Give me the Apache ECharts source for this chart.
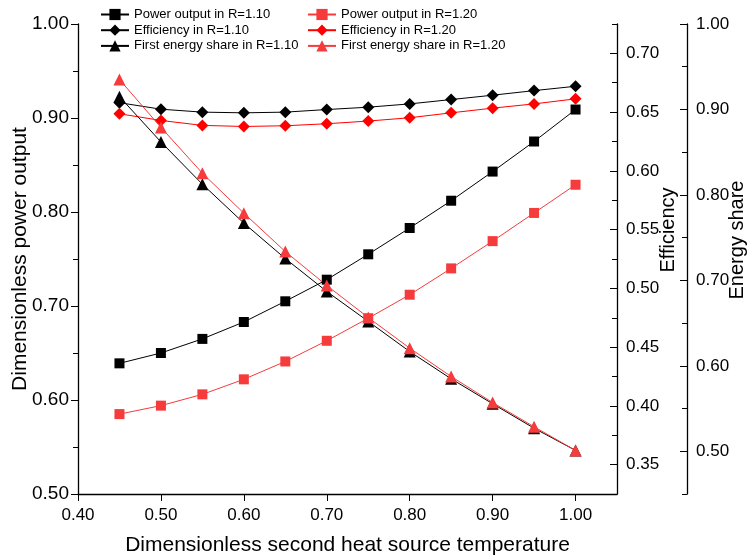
<!DOCTYPE html>
<html lang="en">
<head>
	<meta charset="UTF-8">
	<title>Power output, efficiency and energy share</title>
	<style>
       html, body { margin: 0; padding: 0; background: #fff; }
       #chart_box { width: 747px; height: 560px; }
	</style>
	<script type="text/javascript" src="https://cdn.jsdelivr.net/npm/echarts@6/dist/echarts.min.js"></script>
</head>
<body>
	<div id="chart_box"></div>
	<script type="text/javascript">
      // data
      var temperature = [0.45, 0.50, 0.55, 0.60, 0.65, 0.70, 0.75, 0.80, 0.85, 0.90, 0.95, 1.00];

      var power_r110 = [0.639, 0.650, 0.665, 0.683, 0.705, 0.728, 0.755, 0.783, 0.812, 0.843, 0.875, 0.909];
      var power_r120 = [0.585, 0.594, 0.606, 0.622, 0.641, 0.663, 0.687, 0.712, 0.740, 0.769, 0.799, 0.829];

      var eff_r110 = [0.658, 0.6525, 0.650, 0.6494, 0.650, 0.6522, 0.6542, 0.657, 0.6607, 0.6644, 0.6683, 0.672];
      var eff_r120 = [0.6486, 0.6429, 0.6387, 0.6378, 0.6384, 0.6401, 0.6424, 0.6452, 0.6494, 0.6534, 0.657, 0.6613];

      var share_r110 = [0.915, 0.862, 0.8125, 0.767, 0.7255, 0.687, 0.652, 0.6167, 0.5848, 0.5556, 0.527, 0.501];
      var share_r120 = [0.935, 0.879, 0.8254, 0.7786, 0.7337, 0.694, 0.6565, 0.6207, 0.5875, 0.557, 0.5287, 0.501];

      var x_ticks = [0.40, 0.50, 0.60, 0.70, 0.80, 0.90, 1.00];
      var eff_ticks = [0.35, 0.40, 0.45, 0.50, 0.55, 0.60, 0.65, 0.70];
      var share_ticks = [0.50, 0.60, 0.70, 0.80, 0.90, 1.00];

      var RED = '#f53b3b';
      var RED_D = '#ff0000';
      var FONT = 'Liberation Sans, Arial, sans-serif';

      var pairs = function(ys){
        var out = [];
        for (var i = 0; i < temperature.length; i++) out.push([temperature[i], ys[i]]);
        return out;
      };
      var fmt = function(v){ return v.toFixed(2); };

      var mkSeries = function(name, ys, axis, color, symbol, size){
        return {
          name: name,
          type: 'line',
          yAxisIndex: axis,
          data: pairs(ys),
          symbol: symbol,
          symbolSize: size,
          color: color,
          lineStyle: { color: color, width: 1 },
          itemStyle: { color: color },
          emphasis: { disabled: true },
          animation: false
        };
      };

      var axisLineStyle = { show: true, lineStyle: { color: '#000', width: 1.3 } };
      var legendText = { fontSize: 13, color: '#000', fontFamily: FONT };

      var chart = echarts.init(document.getElementById('chart_box'));
      var option = {
        backgroundColor: '#fff',
        textStyle: { fontFamily: FONT },
        grid: { left: 78, right: 130, top: 24, bottom: 66, containLabel: false, outerBoundsMode: 'none' },
        legend: [
          {
            orient: 'vertical', left: 95, top: 3, itemWidth: 28, itemHeight: 14, itemGap: 2.7,
            textStyle: legendText,
            data: ['Power output in R=1.10', 'Efficiency in R=1.10', 'First energy share in R=1.10']
          },
          {
            orient: 'vertical', left: 302, top: 3, itemWidth: 28, itemHeight: 14, itemGap: 2.7,
            textStyle: legendText,
            data: ['Power output in R=1.20', 'Efficiency in R=1.20', 'First energy share in R=1.20']
          }
        ],
        xAxis: {
          type: 'value', min: 0.40, max: 1.05, interval: 0.1,
          name: 'Dimensionless second heat source temperature',
          nameLocation: 'middle', nameGap: 41, nameMoveOverlap: false,
          nameTextStyle: { fontSize: 21, color: '#000', fontFamily: FONT },
          axisLine: axisLineStyle,
          axisTick: { show: true, length: 7, customValues: x_ticks, lineStyle: { color: '#000' } },
          axisLabel: { fontSize: 17, color: '#000', margin: 13, customValues: x_ticks, formatter: fmt },
          splitLine: { show: false }
        },
        yAxis: [
          {
            type: 'value', position: 'left', min: 0.50, max: 1.00, interval: 0.1,
            name: 'Dimensionless power output', nameLocation: 'middle', nameRotate: 90,
            nameGap: 47, nameMoveOverlap: false,
            nameTextStyle: { fontSize: 21, color: '#000', fontFamily: FONT },
            axisLine: axisLineStyle,
            axisTick: { show: true, length: 7, lineStyle: { color: '#000' } },
            minorTick: { show: true, splitNumber: 2, length: 5, lineStyle: { color: '#000' } },
            axisLabel: { fontSize: 19, color: '#000', margin: 9, formatter: fmt },
            splitLine: { show: false }
          },
          {
            type: 'value', position: 'right', offset: 0, min: 0.325, max: 0.725,
            name: 'Efficiency', nameLocation: 'middle', nameRotate: 90,
            nameGap: 41, nameMoveOverlap: false,
            nameTextStyle: { fontSize: 20, color: '#000', fontFamily: FONT, padding: [0, 0, 0, 58] },
            axisLine: axisLineStyle,
            axisTick: { show: true, inside: true, length: 7, customValues: eff_ticks, lineStyle: { color: '#000' } },
            axisLabel: { fontSize: 17, color: '#000', margin: 9, customValues: eff_ticks, formatter: fmt },
            splitLine: { show: false }
          },
          {
            type: 'value', position: 'right', offset: 70, min: 0.45, max: 1.00,
            name: 'Energy share', nameLocation: 'middle', nameRotate: 90,
            nameGap: 40, nameMoveOverlap: false,
            nameTextStyle: { fontSize: 20, color: '#000', fontFamily: FONT, padding: [0, 0, 0, 38] },
            axisLine: axisLineStyle,
            axisTick: { show: true, inside: true, length: 7, customValues: share_ticks, lineStyle: { color: '#000' } },
            axisLabel: { fontSize: 17, color: '#000', margin: 9, customValues: share_ticks, formatter: fmt },
            splitLine: { show: false }
          },
          // minor ticks of the efficiency axis
          {
            type: 'value', position: 'right', offset: 0, min: 0.325, max: 0.725, interval: 0.025,
            axisLine: { show: false }, axisLabel: { show: false }, splitLine: { show: false },
            axisTick: { show: true, inside: true, length: 5, lineStyle: { color: '#000' } }
          },
          // minor ticks of the energy share axis
          {
            type: 'value', position: 'right', offset: 70, min: 0.45, max: 1.00, interval: 0.05,
            axisLine: { show: false }, axisLabel: { show: false }, splitLine: { show: false },
            axisTick: { show: true, inside: true, length: 5, lineStyle: { color: '#000' } }
          }
        ],
        series: [
          mkSeries('Power output in R=1.10', power_r110, 0, '#000', 'rect', 10),
          mkSeries('Power output in R=1.20', power_r120, 0, RED, 'rect', 10),
          mkSeries('Efficiency in R=1.10', eff_r110, 1, '#000', 'diamond', 12),
          mkSeries('Efficiency in R=1.20', eff_r120, 1, RED_D, 'diamond', 12),
          mkSeries('First energy share in R=1.10', share_r110, 2, '#000', 'triangle', 12),
          mkSeries('First energy share in R=1.20', share_r120, 2, RED, 'triangle', 12)
        ]
      };
      chart.setOption(option);
	</script>
</body>
</html>
